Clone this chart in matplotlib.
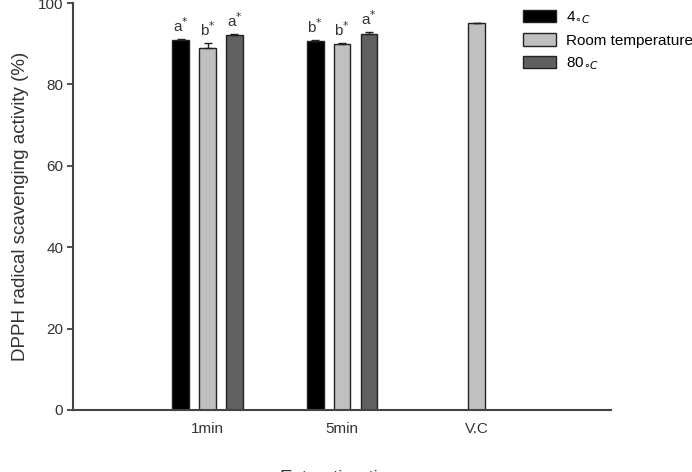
import numpy as np
import matplotlib
matplotlib.use("Agg")
import matplotlib.pyplot as plt

plt.rcParams['font.family'] = ['Liberation Sans', 'DejaVu Sans']

# --- data ---
groups = ['1min', '5min', 'V.C']
series_names = ['4$_{\\circ C}$', 'Room temperature', '80$_{\\circ C}$']
vals_4c = [90.8, 90.6]
vals_room = [89.0, 89.9, 95.0]
vals_80c = [92.1, 92.3]
err_4c = [0.3, 0.3]
err_room = [1.2, 0.3, 0.2]
err_80c = [0.3, 0.6]
letters_4c = ['a*', 'b*']
letters_room = ['b*', 'b*']
letters_80c = ['a*', 'a*']

colors = ['#000000', '#c0c0c0', '#606060']

fig = plt.figure(figsize=(6.92, 4.72), dpi=100)
ax = fig.add_axes([0.1055, 0.1314, 0.7775, 0.8622])

x = np.arange(1, len(groups) + 1)
w = 0.125
off = 0.2

def draw(xs, vals, errs, color, label):
    ax.bar(xs, vals, width=w, color=color, edgecolor='#222222', linewidth=1.0,
           label=label, zorder=2)
    ax.errorbar(xs, vals, yerr=[np.zeros(len(errs)), errs], fmt='none',
                ecolor='#222222', elinewidth=1.0, capsize=3, capthick=1.0, zorder=3)

draw(x[:2] - off, vals_4c, err_4c, colors[0], series_names[0])
draw(x, vals_room, err_room, colors[1], series_names[1])
draw(x[:2] + off, vals_80c, err_80c, colors[2], series_names[2])

# significance letters
for xs, vals, errs, labs in [(x[:2] - off, vals_4c, err_4c, letters_4c),
                             (x[:2], vals_room[:2], err_room[:2], letters_room),
                             (x[:2] + off, vals_80c, err_80c, letters_80c)]:
    for xi, v, e, t in zip(xs, vals, errs, labs):
        ax.text(xi, v + e + 1.0, t[0] + '$^{*}$', ha='center', va='bottom',
                fontsize=11, color='#333333')

ax.set_xlim(0, 4)
ax.set_ylim(0, 100)
ax.set_xticks(x)
ax.set_xticklabels(groups, fontsize=11, color='#333333')
ax.set_yticks([0, 20, 40, 60, 80, 100])
ax.tick_params(axis='x', length=0, pad=9)
ax.tick_params(axis='y', direction='out', length=4, width=1.2, labelsize=11,
               colors='#333333', pad=3)

for s in ['top', 'right']:
    ax.spines[s].set_visible(False)
for s in ['left', 'bottom']:
    ax.spines[s].set_linewidth(1.5)
    ax.spines[s].set_color('#444444')

ax.set_ylabel('DPPH radical scavenging activity (%)', fontsize=13.5,
              color='#333333', labelpad=6)
ax.set_xlabel('Extraction time', fontsize=13.5, color='#333333', labelpad=24)

leg = ax.legend(loc='upper left', bbox_to_anchor=(0.836, 0.985), frameon=False,
                fontsize=11, handlelength=2.2, handleheight=0.85,
                labelspacing=0.5, handletextpad=0.6, borderaxespad=0,
                borderpad=0)

fig.savefig('out.png', dpi=100)
